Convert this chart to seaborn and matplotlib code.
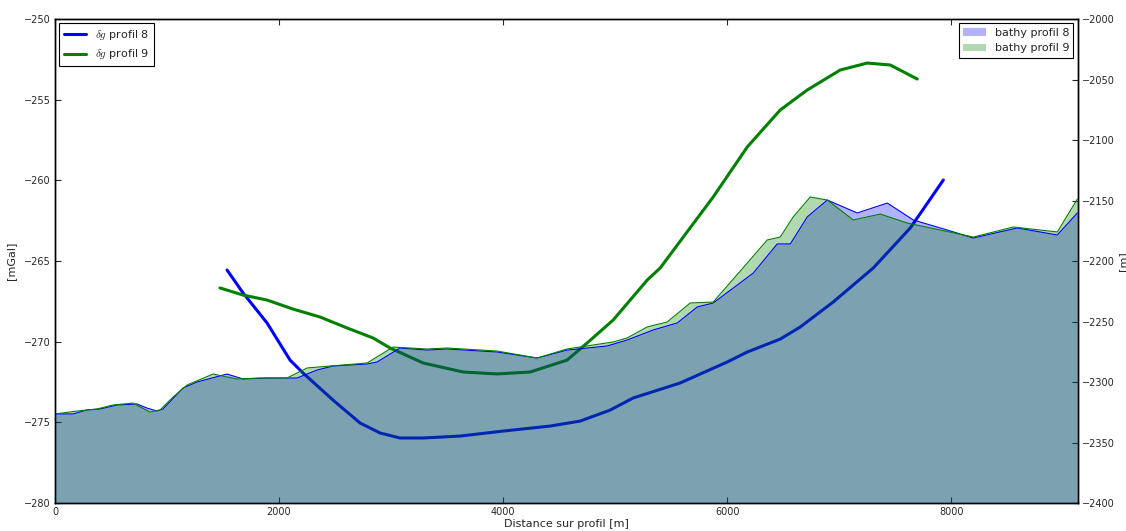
import numpy as np
import pandas as pd
import matplotlib
matplotlib.use("Agg")
import matplotlib.pyplot as plt
import seaborn as sns

# gravity anomaly profiles (mGal), left axis
dg8_x = [1536, 1679, 1893, 2098, 2214, 2482, 2723, 2902, 3080, 3286, 3616, 4000,
         4420, 4688, 4955, 5161, 5580, 6000, 6179, 6473, 6652, 6946, 7304, 7634, 7929]
dg8_y = [-265.56, -266.98, -268.84, -271.14, -271.94, -273.62, -275.04, -275.66, -275.97,
         -275.97, -275.85, -275.54, -275.23, -274.92, -274.24, -273.49, -272.56, -271.26,
         -270.64, -269.84, -269.09, -267.54, -265.43, -262.95, -259.98]

dg9_x = [1473, 1679, 1893, 2125, 2366, 2607, 2839, 2991, 3286, 3643, 3946, 4241, 4571,
         4750, 4982, 5286, 5402, 5875, 6179, 6473, 6714, 7009, 7250, 7455, 7696]
dg9_y = [-266.67, -267.11, -267.42, -267.98, -268.47, -269.15, -269.77, -270.39, -271.32,
         -271.88, -272.0, -271.88, -271.14, -270.08, -268.66, -266.18, -265.43, -261.03,
         -257.93, -255.64, -254.4, -253.16, -252.73, -252.85, -253.72]

# bathymetry (m), right axis
b8_x = [0, 161, 286, 402, 554, 732, 821, 911, 964, 1143, 1268, 1536, 1679, 1893, 2161,
        2339, 2482, 2786, 2875, 3080, 3321, 3500, 3946, 4304, 4571, 4929, 5107, 5339,
        5554, 5732, 5875, 6232, 6446, 6563, 6714, 6893, 7161, 7429, 7661, 7964, 8196,
        8589, 8946, 9125]
b8_y = [-2326.4, -2326.4, -2323.1, -2322.3, -2319.0, -2318.2, -2321.5, -2324.0, -2322.3,
        -2305.0, -2300.0, -2293.4, -2297.5, -2296.7, -2296.7, -2290.1, -2286.8, -2285.1,
        -2283.5, -2271.9, -2273.6, -2272.7, -2275.2, -2280.2, -2273.6, -2270.2, -2265.3,
        -2257.0, -2251.2, -2238.0, -2234.7, -2210.0, -2185.9, -2185.9, -2163.6, -2149.6,
        -2160.3, -2152.1, -2166.1, -2174.4, -2181.0, -2172.7, -2178.5, -2160.3]

b9_x = [0, 196, 375, 518, 696, 848, 938, 1054, 1179, 1411, 1625, 1830, 2071, 2250, 2455,
        2786, 3018, 3321, 3500, 3946, 4304, 4571, 4982, 5107, 5286, 5464, 5670, 5875,
        6179, 6357, 6473, 6589, 6741, 6893, 7125, 7366, 7607, 8196, 8554, 8946, 9125]
b9_y = [-2326.4, -2324.0, -2322.3, -2319.0, -2317.4, -2324.8, -2323.1, -2312.4, -2302.5,
        -2293.4, -2297.5, -2296.7, -2296.7, -2288.4, -2286.8, -2284.3, -2271.1, -2272.7,
        -2271.9, -2274.4, -2280.2, -2272.7, -2266.9, -2263.6, -2254.5, -2250.4, -2234.7,
        -2233.9, -2201.7, -2182.6, -2180.2, -2163.6, -2147.1, -2149.6, -2166.1, -2161.2,
        -2168.6, -2180.2, -2171.9, -2176.0, -2148.8]

sns.set_style("ticks", {"xtick.direction": "in", "ytick.direction": "in"})
plt.rcParams["font.family"] = ["DejaVu Sans"]
plt.rcParams["mathtext.fontset"] = "cm"
plt.rcParams["xtick.top"] = True

fig = plt.figure(figsize=(11.26, 5.31), dpi=100)
ax = fig.add_axes([0.0488, 0.0527, 0.9085, 0.9115])

df8 = pd.DataFrame({"x": dg8_x, "y": dg8_y})
df9 = pd.DataFrame({"x": dg9_x, "y": dg9_y})
sns.lineplot(data=df8, x="x", y="y", ax=ax, color="blue", lw=2.2,
             label=r"$\delta g$ profil 8", sort=False)
sns.lineplot(data=df9, x="x", y="y", ax=ax, color="green", lw=2.2,
             label=r"$\delta g$ profil 9", sort=False)

ax.set_xlim(0, 9130)
ax.set_ylim(-280, -250)
ax.set_xticks([0, 2000, 4000, 6000, 8000])
ax.set_yticks(np.arange(-280, -249, 5))
ax.set_xlabel("Distance sur profil [m]", fontsize=8, labelpad=1)
ax.set_ylabel("[mGal]", fontsize=8)
ax.yaxis.set_label_coords(-0.038, 0.5)
ax.tick_params(labelsize=7, length=4, width=0.8, top=True, right=False, pad=3)
leg = ax.legend(loc="upper left", fontsize=8, fancybox=False, edgecolor="black",
                handlelength=2, borderaxespad=0.4, framealpha=1)
leg.get_frame().set_linewidth(0.8)

ax2 = ax.twinx()
ax2.fill_between(b8_x, -2400, b8_y, facecolor="blue", alpha=0.3, lw=0, label="bathy profil 8")
ax2.plot(b8_x, b8_y, color="blue", lw=0.8)
ax2.fill_between(b9_x, -2400, b9_y, facecolor="green", alpha=0.3, lw=0, label="bathy profil 9")
ax2.plot(b9_x, b9_y, color="green", lw=0.8)
ax2.set_ylim(-2400, -2000)
ax2.set_yticks(np.arange(-2400, -1999, 50))
ax2.set_ylabel("[m]", fontsize=8)
ax2.yaxis.set_label_coords(1.039, 0.5)
ax2.tick_params(labelsize=7, length=4, width=0.8, direction="in", pad=3)
leg2 = ax2.legend(loc="upper right", fontsize=8, fancybox=False, edgecolor="black",
                  handlelength=2, borderaxespad=0.4, framealpha=1)
leg2.get_frame().set_linewidth(0.8)

for a in (ax, ax2):
    for s in a.spines.values():
        s.set_linewidth(1.0)
        s.set_color("black")

fig.savefig("out.png", dpi=100)
